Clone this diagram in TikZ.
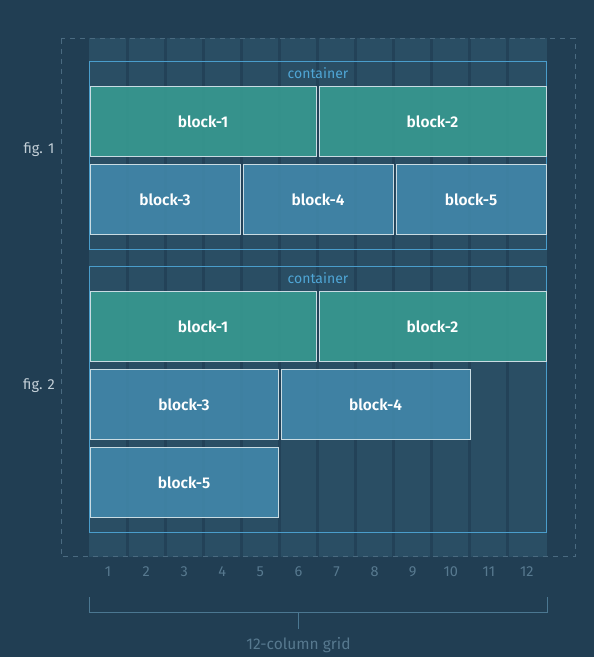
\documentclass[tikz,border=0pt]{standalone}
\usepackage{fontspec}
\setmainfont{Fira Sans}[BoldFont={Fira Sans SemiBold}]
\begin{document}
\begin{tikzpicture}[x=1pt,y=-1pt,
  blockbase/.style={draw=blockline, line width=0.8pt, fill opacity=0.9, text opacity=1,
    text=white, font=\fontsize{15.5}{17}\selectfont\bfseries, inner sep=0pt, minimum height=70.5pt},
  tealblock/.style={blockbase, fill=tealfill},
  blueblock/.style={blockbase, fill=bluefill},
  contbox/.style={draw=contline, line width=0.9pt},
  contlabel/.style={text=contlabelcol, font=\fontsize{14}{16}\selectfont},
  figlabel/.style={text=figtext, font=\fontsize{14.5}{16}\selectfont},
  colnum/.style={text=numtext, font=\fontsize{14.5}{16}\selectfont},
  bracketline/.style={draw=bracketcol, line width=1pt}
]
\definecolor{bgcol}{HTML}{213E53}
\definecolor{colfill}{HTML}{2A4E64}
\definecolor{gutter}{HTML}{234258}
\definecolor{tealfill}{HTML}{389A91}
\definecolor{bluefill}{HTML}{4287AA}
\definecolor{blockline}{HTML}{C9DCE3}
\definecolor{contline}{HTML}{4A9DCB}
\definecolor{contlabelcol}{HTML}{4FA6D6}
\definecolor{figtext}{HTML}{C3CFD7}
\definecolor{numtext}{HTML}{57798F}
\definecolor{bracketcol}{HTML}{4B7791}
\definecolor{dashcol}{HTML}{4A6A80}

\useasboundingbox (0,0) rectangle (594,657);
\fill[bgcol] (0,0) rectangle (594,657);

% grid columns
\fill[colfill] (89,38) rectangle (546.7,557);
\foreach \k in {1,...,11}{
  \fill[gutter] ({89+38.08*\k-1.5},38) rectangle ({89+38.08*\k+1.5},557);
}
% dashed frame
\draw[dashcol, line width=1pt, dash pattern=on 5pt off 5pt] (61,38.5) rectangle (575,556.5);

% fig 1
\draw[contbox] (89,61) rectangle (546,249);
\node[contlabel] (c1) at (318,73) {container};
\node[tealblock, minimum width=226pt] (a1) at (203,121.5) {block-1};
\node[tealblock, minimum width=227pt] (a2) at (432.5,121.5) {block-2};
\node[blueblock, minimum width=150pt] (a3) at (165,199.5) {block-3};
\node[blueblock, minimum width=150pt] (a4) at (318,199.5) {block-4};
\node[blueblock, minimum width=150pt] (a5) at (471,199.5) {block-5};

% fig 2
\draw[contbox] (89,266) rectangle (546,532);
\node[contlabel] (c2) at (318,278) {container};
\node[tealblock, minimum width=226pt] (b1) at (203,326.5) {block-1};
\node[tealblock, minimum width=227pt] (b2) at (432.5,326.5) {block-2};
\node[blueblock, minimum width=188pt] (b3) at (184,404.5) {block-3};
\node[blueblock, minimum width=189pt] (b4) at (375.5,404.5) {block-4};
\node[blueblock, minimum width=188pt] (b5) at (184,482.5) {block-5};

% fig labels
\node[figlabel] (f1) at (39,150) {fig. 1};
\node[figlabel] (f2) at (39,386) {fig. 2};

% column numbers
\foreach \k in {1,...,12}{
  \node[colnum] (n\k) at ({89+38.08*(\k-0.5)},572) {\k};
}

% bracket
\coordinate (bl) at (89,597);
\coordinate (br) at (547,597);
\coordinate (bm) at (298.5,612);
\coordinate (bt) at (298.5,629);
\draw[bracketline] (bl) -- (89,612) -- (547,612) -- (br);
\draw[bracketline] (bm) -- (bt);
\node[colnum, font=\fontsize{15.5}{17}\selectfont] (gl) at (298.5,645) {12-column grid};
\end{tikzpicture}
\end{document}
